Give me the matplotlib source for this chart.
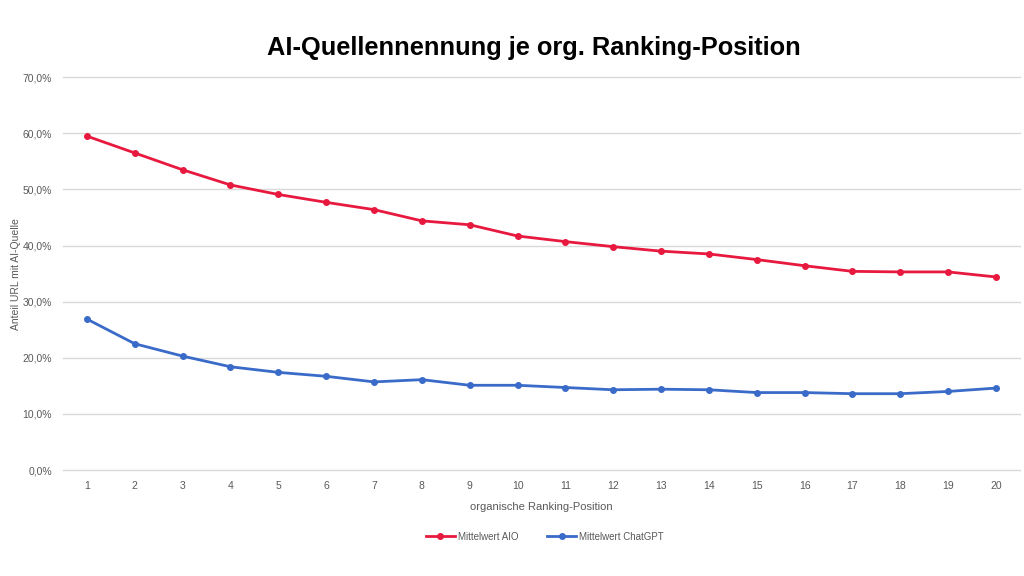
import matplotlib.pyplot as plt
from matplotlib.ticker import FuncFormatter

plt.rcParams['font.family'] = ['Liberation Sans', 'DejaVu Sans']

positions = list(range(1, 21))
aio = [59.5, 56.5, 53.5, 50.8, 49.1, 47.7, 46.4, 44.4, 43.7, 41.7,
       40.7, 39.8, 39.0, 38.5, 37.5, 36.4, 35.4, 35.3, 35.3, 34.4]
chatgpt = [26.9, 22.5, 20.3, 18.4, 17.4, 16.7, 15.7, 16.1, 15.1, 15.1,
           14.7, 14.3, 14.4, 14.3, 13.8, 13.8, 13.6, 13.6, 14.0, 14.6]

red = '#E8193F'
blue = '#3A6BC9'
grey_txt = '#595959'

fig = plt.figure(figsize=(10.24, 5.76), dpi=100)
ax = fig.add_axes([0.0615, 0.184, 0.9345, 0.682])

ax.plot(positions, aio, color=red, lw=2, marker='o', ms=4, label='Mittelwert AIO', zorder=3)
ax.plot(positions, chatgpt, color=blue, lw=2, marker='o', ms=4, label='Mittelwert ChatGPT', zorder=3)

ax.set_xlim(0.5, 20.5)
ax.set_ylim(0, 70)
ax.set_yticks(range(0, 71, 10))
ax.yaxis.set_major_formatter(FuncFormatter(lambda v, p: f'{v:.1f}%'.replace('.', ',')))
ax.set_xticks(positions)
ax.grid(axis='y', color='#D9D9D9', lw=1)
for gl in ax.get_ygridlines():
    gl.set_clip_on(False)
ax.set_axisbelow(True)
for s in ax.spines.values():
    s.set_visible(False)
ax.tick_params(length=0, labelsize=7.5, colors=grey_txt, pad=8)

ax.set_xlabel('organische Ranking-Position', fontsize=8, color=grey_txt, labelpad=8)
ax.set_ylabel('Anteil URL mit AI-Quelle', fontsize=7.5, color=grey_txt)
ax.yaxis.set_label_coords(-0.044, 0.5)

fig.text(0.521, 0.916, 'AI-Quellennennung je org. Ranking-Position', ha='center', va='center',
         fontsize=18.3, fontweight='bold', color='black')

fig.legend(loc='center', bbox_to_anchor=(0.532, 0.068), ncol=2, frameon=False,
           fontsize=7, labelcolor=grey_txt, handlelength=3, columnspacing=3, handletextpad=0.3)

fig.savefig('out.png', dpi=100)
